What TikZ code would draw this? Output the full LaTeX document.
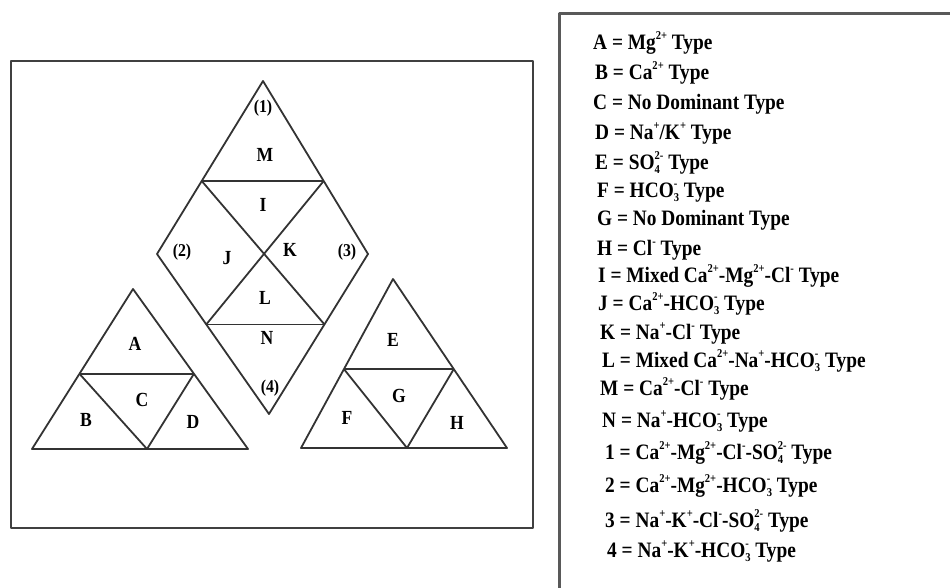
\documentclass[tikz,border=0pt]{standalone}
\usepackage{fontspec}
\setmainfont{Liberation Serif}[FakeStretch=0.88]
\usepackage{tikz}
\usetikzlibrary{calc}

\newcommand{\chg}[1]{\raisebox{0.42em}{\fontsize{12}{12}\selectfont #1}}
\newcommand{\subchg}[2]{%
  \setbox0\hbox{\raisebox{-0.2em}{\fontsize{12}{12}\selectfont #1}}%
  \setbox2\hbox{\chg{#2}}%
  \ifdim\wd0>\wd2\relax \rlap{\box2}\box0\relax\else\rlap{\box0}\box2\relax\fi}

\begin{document}
\begin{tikzpicture}[x=1pt,y=-1pt,line join=round]
\tikzset{
  edge/.style={draw=black!80, line width=1.8pt},
  zone/.style={font=\bfseries\fontsize{20}{20}\selectfont},
  corner/.style={font=\bfseries\fontsize{18}{20}\selectfont},
  key/.style={anchor=base west, inner sep=0pt, font=\bfseries\fontsize{22}{24}\selectfont}
}
\useasboundingbox (0,0) rectangle (950,587);

% frames
\draw[draw=black!75, line width=2.5pt] (11,61) rectangle (533,528);
\draw[draw=black!65, line width=3pt] (559,13) rectangle (990,640);

% cation triangle
\coordinate (cat-top) at (133,289);
\coordinate (cat-bl) at (32,449);
\coordinate (cat-br) at (248,449);
\coordinate (cat-bm) at (147,449);
\coordinate (cat-hl) at ($(cat-top)!0.53!(cat-bl)$);
\coordinate (cat-hr) at ($(cat-top)!0.53!(cat-br)$);
\draw[edge] (cat-top) -- (cat-bl) -- (cat-br) -- cycle;
\draw[edge] (cat-hl) -- (cat-hr);
\draw[edge] (cat-hl) -- (cat-bm) -- (cat-hr);

% anion triangle
\coordinate (an-top) at (393,279);
\coordinate (an-bl) at (301,448);
\coordinate (an-br) at (507,448);
\coordinate (an-bm) at (407,448);
\coordinate (an-hl) at ($(an-top)!0.533!(an-bl)$);
\coordinate (an-hr) at ($(an-top)!0.533!(an-br)$);
\draw[edge] (an-top) -- (an-bl) -- (an-br) -- cycle;
\draw[edge] (an-hl) -- (an-hr);
\draw[edge] (an-hl) -- (an-bm) -- (an-hr);

% diamond
\coordinate (dm-top) at (263,81);
\coordinate (dm-left) at (157,254);
\coordinate (dm-right) at (368,254);
\coordinate (dm-bot) at (269,414);
\coordinate (dm-ul) at ($(dm-top)!0.578!(dm-left)$);
\coordinate (dm-ur) at ($(dm-top)!0.578!(dm-right)$);
\coordinate (dm-ll) at ($(dm-left)!0.44!(dm-bot)$);
\coordinate (dm-lr) at ($(dm-right)!0.44!(dm-bot)$);
\draw[edge] (dm-top) -- (dm-left) -- (dm-bot) -- (dm-right) -- cycle;
\draw[edge] (dm-ul) -- (dm-ur);
\draw[edge] (dm-ll) -- (dm-lr);
\draw[edge] (dm-ul) -- (dm-lr);
\draw[edge] (dm-ur) -- (dm-ll);

% zone labels
\node[zone] (A) at (135,344) {A};
\node[zone] (B) at (86,420) {B};
\node[zone] (C) at (142,400) {C};
\node[zone] (D) at (193,422) {D};
\node[zone] (E) at (393,340) {E};
\node[zone] (F) at (347,418) {F};
\node[zone] (G) at (399,396) {G};
\node[zone] (H) at (457,423) {H};
\node[zone] (M) at (265,155) {M};
\node[zone] (I) at (263,205) {I};
\node[zone] (J) at (227,258) {J};
\node[zone] (K) at (290,250) {K};
\node[zone] (L) at (265,298) {L};
\node[zone] (N) at (267,338) {N};
\node[corner] (c1) at (263,108) {(1)};
\node[corner] (c2) at (182,252) {(2)};
\node[corner] (c3) at (347,252) {(3)};
\node[corner] (c4) at (270,388) {(4)};

% legend
\node[key] (kA) at (593,49) {A = Mg\chg{2+} Type};
\node[key] (kB) at (595,79) {B = Ca\chg{2+} Type};
\node[key] (kC) at (593,109) {C = No Dominant Type};
\node[key] (kD) at (595,139) {D = Na\chg{+}/K\chg{+} Type};
\node[key] (kE) at (595,169) {E = SO\subchg{4}{2-} Type};
\node[key] (kF) at (597,197) {F = HCO\subchg{3}{-} Type};
\node[key] (kG) at (597,225) {G = No Dominant Type};
\node[key] (kH) at (597,255) {H = Cl\chg{-} Type};
\node[key] (kI) at (598,282) {I = Mixed Ca\chg{2+}-Mg\chg{2+}-Cl\chg{-} Type};
\node[key] (kJ) at (598,310) {J = Ca\chg{2+}-HCO\subchg{3}{-} Type};
\node[key] (kK) at (600,339) {K = Na\chg{+}-Cl\chg{-} Type};
\node[key] (kL) at (602,367) {L = Mixed Ca\chg{2+}-Na\chg{+}-HCO\subchg{3}{-} Type};
\node[key] (kM) at (600,395) {M = Ca\chg{2+}-Cl\chg{-} Type};
\node[key] (kN) at (602,427) {N = Na\chg{+}-HCO\subchg{3}{-} Type};
\node[key] (k1) at (605,459) {1 = Ca\chg{2+}-Mg\chg{2+}-Cl\chg{-}-SO\subchg{4}{2-} Type};
\node[key] (k2) at (605,492) {2 = Ca\chg{2+}-Mg\chg{2+}-HCO\subchg{3}{-} Type};
\node[key] (k3) at (605,527) {3 = Na\chg{+}-K\chg{+}-Cl\chg{-}-SO\subchg{4}{2-} Type};
\node[key] (k4) at (607,557) {4 = Na\chg{+}-K\chg{+}-HCO\subchg{3}{-} Type};
\end{tikzpicture}
\end{document}
